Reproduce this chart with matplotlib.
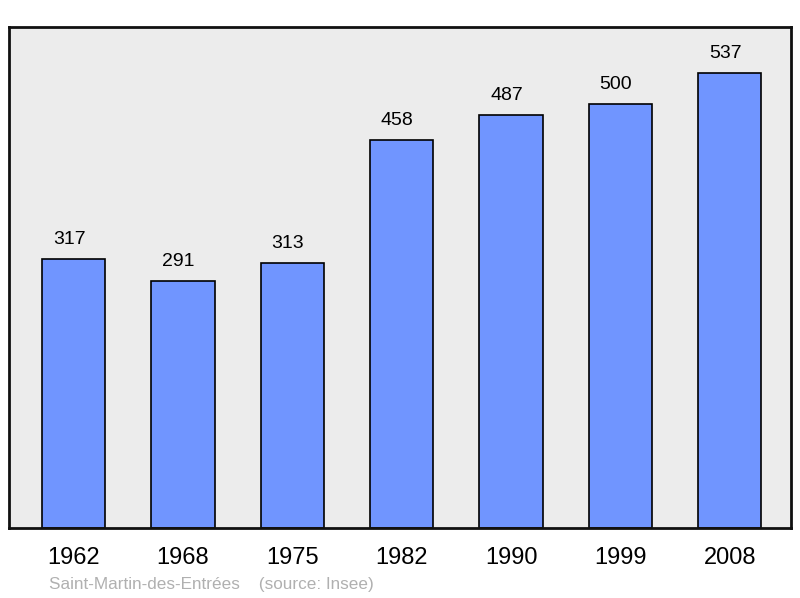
import matplotlib
matplotlib.use("Agg")
import matplotlib.pyplot as plt

plt.rcParams['font.family'] = ['Liberation Sans', 'DejaVu Sans']

years = ['1962', '1968', '1975', '1982', '1990', '1999', '2008']
population = [317, 291, 313, 458, 487, 500, 537]

fig = plt.figure(figsize=(8, 5.98), dpi=100)
ax = fig.add_axes([9 / 800, 1 - 528 / 598, 782 / 800, 501 / 598])
ax.set_facecolor('#ececec')

x = list(range(len(years)))
ax.bar(x, population, width=0.58, color='#7095ff', edgecolor='black', linewidth=1.2, zorder=2)
for xi, v in zip(x, population):
    ax.text(xi - 0.04, v + 13, str(v), ha='center', va='bottom', fontsize=14)

ax.set_xlim(-0.59, 6.56)
ax.set_ylim(0, 591)
ax.set_yticks([])
ax.set_xticks(x)
ax.set_xticklabels(years, fontsize=17)
ax.tick_params(axis='x', length=0, pad=14)
for s in ax.spines.values():
    s.set_linewidth(2)
    s.set_color('#111111')

fig.text(49 / 800, 1 - 584 / 598, 'Saint-Martin-des-Entrées    (source: Insee)',
         color='#b0b0b0', fontsize=12.3, va='center', ha='left')

fig.savefig('out.png', dpi=100)
